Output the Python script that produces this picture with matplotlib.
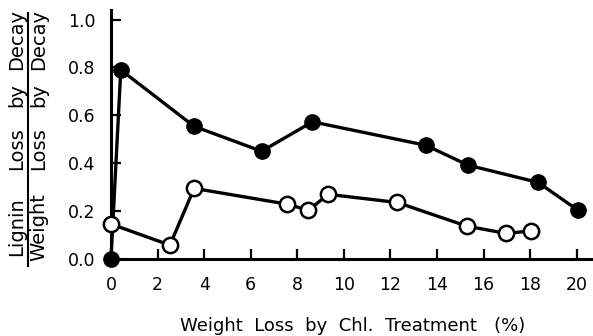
import matplotlib
matplotlib.use("Agg")
import matplotlib.pyplot as plt

# decay series (filled circles)
decay_x = [0.0, 0.42, 3.57, 6.47, 8.65, 13.52, 15.33, 18.34, 20.05]
decay_y = [0.0, 0.79, 0.554, 0.45, 0.573, 0.475, 0.392, 0.32, 0.204]

# open circles
open_x = [0.0, 2.53, 3.57, 7.57, 8.47, 9.34, 12.3, 15.27, 16.95, 18.03]
open_y = [0.146, 0.058, 0.295, 0.229, 0.204, 0.27, 0.236, 0.1375, 0.107, 0.117]

xticks = [0, 2, 4, 6, 8, 10, 12, 14, 16, 18, 20]
yticks = [0.0, 0.2, 0.4, 0.6, 0.8, 1.0]

numerator = ['Lignin', 'Loss', 'by', 'Decay']
denominator = ['Weight', 'Loss', 'by', 'Decay']
xlabel = 'Weight  Loss  by  Chl.  Treatment   (%)'

plt.rcParams['font.family'] = ['DejaVu Sans']

W, H = 593, 336
fig = plt.figure(figsize=(W / 100, H / 100), dpi=100)
ax = fig.add_axes([111 / W, 77 / H, 482 / W, 249 / H])

ax.plot(decay_x, decay_y, color='black', lw=2.4, marker='o', ms=11,
        mfc='black', mec='black', clip_on=False, zorder=3)
ax.plot(open_x, open_y, color='black', lw=2.4, marker='o', ms=11,
        mfc='white', mec='black', mew=1.8, clip_on=False, zorder=4)

ax.set_xlim(0, 20.7)
ax.set_ylim(0, 1.04)
ax.set_xticks(xticks)
ax.set_yticks(yticks)
ax.set_xticklabels([str(t) for t in xticks])
ax.set_yticklabels(['%.1f' % t for t in yticks])

for s in ['top', 'right']:
    ax.spines[s].set_visible(False)
for s in ['left', 'bottom']:
    ax.spines[s].set_linewidth(2.2)
ax.tick_params(axis='both', direction='in', length=7, width=1.6, labelsize=12.5)
ax.tick_params(axis='x', pad=12)
ax.tick_params(axis='y', pad=11)

fig.text(353 / W, 1 - 331 / H, xlabel, ha='center', va='baseline', fontsize=13)

# fraction-style y label
word_y = [227, 149, 95, 40]
for word, yy in zip(numerator, word_y):
    fig.text(22 / W, 1 - yy / H, word, rotation=90, rotation_mode='anchor',
             ha='center', va='baseline', fontsize=14)
for word, yy in zip(denominator, word_y):
    fig.text(44 / W, 1 - yy / H, word, rotation=90, rotation_mode='anchor',
             ha='center', va='baseline', fontsize=14)
fig.add_artist(plt.Line2D([28 / W, 28 / W], [1 - 266 / H, 1 - 13 / H],
                          color='black', lw=1.5, transform=fig.transFigure))

fig.savefig('out.png', dpi=100)
